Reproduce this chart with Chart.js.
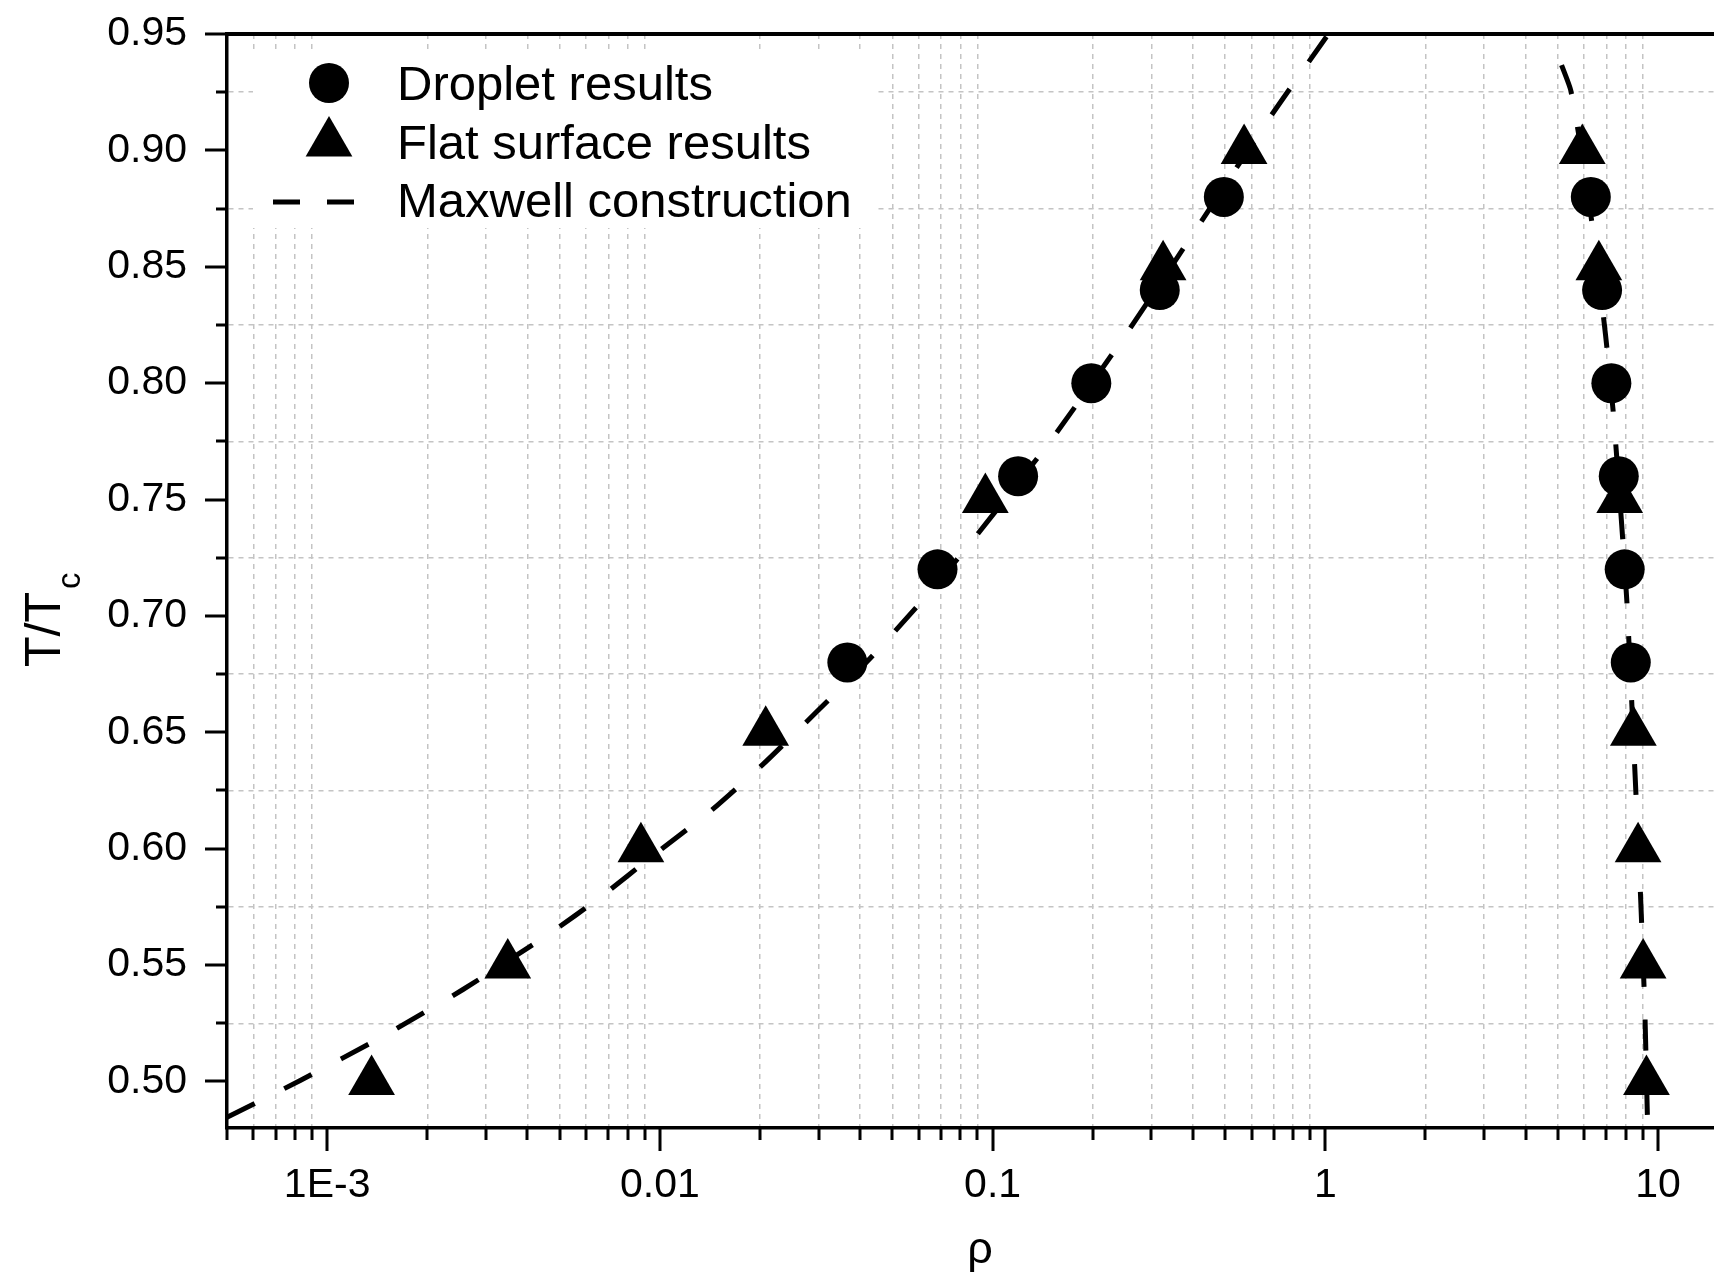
<!DOCTYPE html>
<html>
<head>
<meta charset="utf-8">
<title>Coexistence curve</title>
<script src="https://cdn.jsdelivr.net/npm/chart.js@4.4.1/dist/chart.umd.min.js"></script>
<style>
  html, body { margin: 0; padding: 0; background: #fff; overflow: hidden; }
  canvas { display: block; }
</style>
</head>
<body>
<canvas id="grafico" width="1736" height="1283"></canvas>
<script>
// Droplet results (gas and liquid branches)
const tempDroplet = [0.88, 0.84, 0.80, 0.76, 0.72, 0.68];
const rhoDropletGas = [0.4955, 0.318, 0.198, 0.1193, 0.0683, 0.0366];
const rhoDropletLiquid = [6.28, 6.79, 7.24, 7.62, 7.94, 8.28];

// Flat surface results
const tempFlat = [0.90, 0.85, 0.75, 0.65, 0.60, 0.55, 0.50];
const rhoFlatGas = [0.570, 0.3254, 0.0951, 0.0208, 0.00877, 0.00349, 0.00136];
const rhoFlatLiquid = [5.92, 6.64, 7.67, 8.43, 8.71, 9.02, 9.23];

// Maxwell construction
const maxwellGasRho = [5.0e-4, 8.3e-4, 1.47e-3, 2.56e-3, 4.67e-3, 6.64e-3, 9.77e-3, 0.0141, 0.0204, 0.0296, 0.0428, 0.0601, 0.0825, 0.1486, 0.2526, 0.4146, 0.681, 1.008];
const maxwellGasT = [0.4846, 0.5004, 0.5194, 0.5395, 0.5636, 0.5793, 0.5982, 0.6158, 0.6362, 0.6588, 0.6817, 0.7050, 0.7283, 0.7748, 0.8213, 0.8674, 0.9141, 0.9488];
const maxwellLiqRho = [5.13, 5.47, 6.05, 6.46, 6.95, 7.33, 7.76, 8.07, 8.51, 8.87, 9.12, 9.29, 9.32];
const maxwellLiqT = [0.9366, 0.9256, 0.889, 0.859, 0.821, 0.788, 0.741, 0.705, 0.635, 0.578, 0.532, 0.485, 0.48];

// Axes
const xMajorValues = [0.001, 0.01, 0.1, 1, 10];
const xMajorLabels = ['1E-3', '0.01', '0.1', '1', '10'];
const yMajorLabels = ['0.50', '0.55', '0.60', '0.65', '0.70', '0.75', '0.80', '0.85', '0.90', '0.95'];
const legendLabels = ['Droplet results', 'Flat surface results', 'Maxwell construction'];

const X_MIN = 5e-4, X_MAX = 16.8, Y_MIN = 0.48, Y_MAX = 0.95;
const FONTE = '"Liberation Sans", Arial, sans-serif';

const pares = (xs, ys) => xs.map((x, i) => ({ x: x, y: ys[i] }));

function ehMaiorX(v) {
    const l = Math.log10(v);
    return Math.abs(l - Math.round(l)) < 1e-6;
}
function ehMaiorY(v) {
    return Math.round(v * 1000) % 50 === 0;
}

function ticksX() {
    const lista = [];
    for (let e = -4; e <= 1; e++) {
        for (let m = 1; m <= 9; m++) {
            const v = parseFloat((m * Math.pow(10, e)).toPrecision(6));
            if (v >= X_MIN * 0.999 && v <= X_MAX) lista.push({ value: v });
        }
    }
    return lista;
}
function ticksY() {
    const lista = [];
    for (let i = 0; i <= 18; i++) lista.push({ value: (500 + 25 * i) / 1000 });
    return lista;
}

// Frame, tick marks, axis titles and legend
const decoracao = {
    id: 'decoracao',
    beforeDatasetsDraw(chart) {
        const ctx = chart.ctx;
        ctx.save();
        ctx.fillStyle = '#fff';
        ctx.fillRect(253, 50, 625, 178);
        ctx.fillStyle = '#000';
        ctx.beginPath();
        ctx.arc(329, 83, 20, 0, Math.PI * 2);
        ctx.fill();
        const r = 27, s = Math.sin(Math.PI / 3);
        ctx.beginPath();
        ctx.moveTo(329, 143 - r);
        ctx.lineTo(329 + r * s, 143 + r / 2);
        ctx.lineTo(329 - r * s, 143 + r / 2);
        ctx.closePath();
        ctx.fill();
        ctx.strokeStyle = '#000';
        ctx.lineWidth = 5;
        ctx.beginPath();
        ctx.moveTo(273, 202); ctx.lineTo(300, 202);
        ctx.moveTo(327, 202); ctx.lineTo(354, 202);
        ctx.stroke();
        ctx.font = '49px ' + FONTE;
        ctx.textBaseline = 'alphabetic';
        ctx.textAlign = 'left';
        ctx.fillText(legendLabels[0], 397, 100);
        ctx.fillText(legendLabels[1], 397, 159);
        ctx.fillText(legendLabels[2], 397, 217);
        ctx.restore();
    },
    afterDraw(chart) {
        const ctx = chart.ctx;
        const area = chart.chartArea;
        const sx = chart.scales.x, sy = chart.scales.y;
        ctx.save();
        ctx.strokeStyle = '#000';
        ctx.lineWidth = 4;
        ctx.beginPath();
        ctx.moveTo(area.left - 2, area.top);
        ctx.lineTo(area.right, area.top);
        ctx.stroke();

        ctx.lineWidth = 3;
        ctx.beginPath();
        sx.ticks.forEach(t => {
            const px = Math.round(sx.getPixelForValue(t.value));
            const len = ehMaiorX(t.value) ? 23 : 12;
            ctx.moveTo(px, area.bottom);
            ctx.lineTo(px, area.bottom + len);
        });
        sy.ticks.forEach(t => {
            const py = Math.round(sy.getPixelForValue(t.value));
            const len = ehMaiorY(t.value) ? 22 : 11;
            ctx.moveTo(area.left, py);
            ctx.lineTo(area.left - len, py);
        });
        ctx.stroke();

        // axis titles
        ctx.fillStyle = '#000';
        ctx.font = '45px ' + FONTE;
        ctx.textAlign = 'center';
        ctx.textBaseline = 'alphabetic';
        ctx.fillText('ρ', (area.left + area.right) / 2, 1263);

        ctx.translate(60, 667);
        ctx.rotate(-Math.PI / 2);
        ctx.textAlign = 'left';
        ctx.font = '50px ' + FONTE;
        ctx.fillText('T/T', 0, 0);
        const w = ctx.measureText('T/T').width;
        ctx.font = '33px ' + FONTE;
        ctx.fillText('c', w + 3, 20);
        ctx.restore();
    }
};

new Chart(document.getElementById('grafico'), {
    type: 'scatter',
    data: {
        datasets: [
            { label: legendLabels[0], data: pares(rhoDropletGas, tempDroplet).concat(pares(rhoDropletLiquid, tempDroplet)),
              pointStyle: 'circle', pointRadius: 20, backgroundColor: '#000', borderColor: '#000', borderWidth: 0, order: 1 },
            { label: legendLabels[1], data: pares(rhoFlatGas, tempFlat).concat(pares(rhoFlatLiquid, tempFlat)),
              pointStyle: 'triangle', pointRadius: 27, backgroundColor: '#000', borderColor: '#000', borderWidth: 0, order: 2 },
            { label: legendLabels[2], data: pares(maxwellGasRho, maxwellGasT), showLine: true, pointRadius: 0,
              borderColor: '#000', borderWidth: 5, borderDash: [31, 33], tension: 0.2, fill: false, order: 3 },
            { label: legendLabels[2], data: pares(maxwellLiqRho, maxwellLiqT), showLine: true, pointRadius: 0,
              borderColor: '#000', borderWidth: 5, borderDash: [31, 33], tension: 0.2, fill: false, order: 3 }
        ]
    },
    options: {
        responsive: false,
        animation: false,
        devicePixelRatio: 1,
        events: [],
        layout: { autoPadding: false, padding: { top: 34, right: 3, bottom: 0, left: 0 } },
        plugins: { legend: { display: false }, tooltip: { enabled: false }, title: { display: false } },
        scales: {
            x: {
                type: 'logarithmic',
                position: 'bottom',
                min: X_MIN,
                max: X_MAX,
                afterBuildTicks: s => { s.ticks = ticksX(); },
                afterFit: s => { s.height = 155; s.paddingLeft = 0; s.paddingRight = 0; },
                ticks: {
                    autoSkip: false, maxRotation: 0, padding: 33, color: '#000',
                    font: { family: FONTE, size: 41 },
                    callback: v => { const i = xMajorValues.findIndex(m => Math.abs(m - v) / m < 1e-6); return i >= 0 ? xMajorLabels[i] : ''; }
                },
                grid: {
                    drawTicks: false,
                    color: c => (c.tick && ehMaiorX(c.tick.value)) ? 'rgba(0,0,0,0)' : '#c4c4c4',
                    lineWidth: c => (c.tick && ehMaiorX(c.tick.value)) ? 0 : 1.5
                },
                border: { display: true, color: '#000', width: 3.5, dash: [5, 5] }
            },
            y: {
                type: 'linear',
                min: Y_MIN,
                max: Y_MAX,
                afterBuildTicks: s => { s.ticks = ticksY(); },
                afterFit: s => { s.width = 227; s.paddingTop = 0; s.paddingBottom = 0; },
                ticks: {
                    autoSkip: false, padding: 40, color: '#000',
                    font: { family: FONTE, size: 41 },
                    callback: v => ehMaiorY(v) ? yMajorLabels[Math.round((v - 0.5) / 0.05)] : ''
                },
                grid: {
                    drawTicks: false,
                    color: c => (c.tick && ehMaiorY(c.tick.value)) ? 'rgba(0,0,0,0)' : '#c4c4c4',
                    lineWidth: c => (c.tick && ehMaiorY(c.tick.value)) ? 0 : 1.5
                },
                border: { display: true, color: '#000', width: 3.5, dash: [5, 5] }
            }
        }
    },
    plugins: [decoracao]
});
</script>
</body>
</html>
